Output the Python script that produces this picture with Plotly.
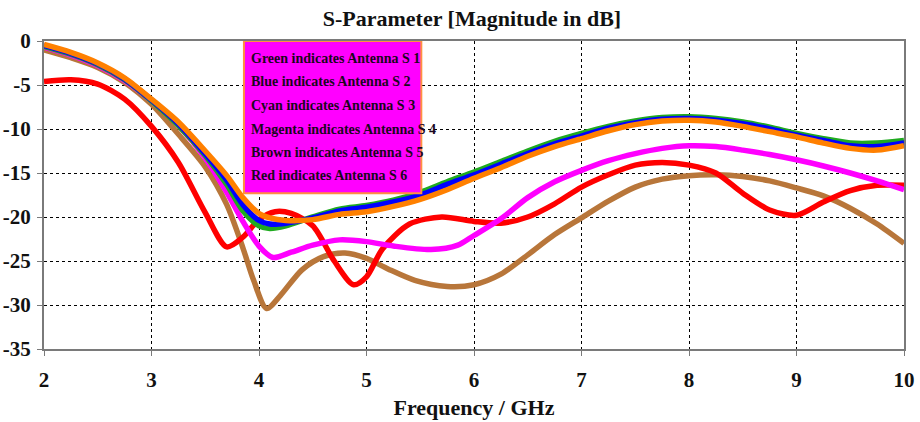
import plotly.graph_objects as go

# Frequency samples (GHz) and |S| in dB for each antenna
freq_main = [2.0, 2.25, 2.5, 2.75, 3.0, 3.25, 3.5, 3.7, 3.85, 4.0, 4.1, 4.25, 4.5, 4.75,
             5.0, 5.25, 5.5, 5.75, 6.0, 6.25, 6.5, 6.75, 7.0, 7.25, 7.5, 7.75, 8.0,
             8.25, 8.5, 8.75, 9.0, 9.25, 9.5, 9.75, 10.0]

s_green = [-0.6, -1.5, -2.7, -4.4, -6.8, -9.6, -13.0, -16.3, -19.3, -21.0, -21.3, -21.0,
           -20.0, -19.1, -18.7, -18.1, -17.2, -16.0, -14.9, -13.7, -12.5, -11.4, -10.5,
           -9.7, -9.1, -8.7, -8.6, -8.8, -9.2, -9.8, -10.5, -11.1, -11.6, -11.6, -11.3]

s_blue = [-0.5, -1.4, -2.6, -4.3, -6.7, -9.4, -12.8, -15.8, -18.6, -20.4, -20.8, -20.7,
          -20.1, -19.3, -18.9, -18.3, -17.5, -16.3, -15.2, -14.0, -12.8, -11.7, -10.8,
          -9.9, -9.3, -8.9, -8.8, -9.0, -9.4, -10.0, -10.7, -11.3, -11.9, -12.0, -11.6]

s_orange = [-0.4, -1.3, -2.5, -4.2, -6.6, -9.2, -12.5, -15.3, -17.8, -19.6, -20.1, -20.4,
            -20.3, -19.7, -19.4, -18.8, -18.0, -16.9, -15.6, -14.4, -13.1, -12.0, -11.1,
            -10.2, -9.5, -9.1, -9.0, -9.2, -9.7, -10.3, -10.9, -11.6, -12.2, -12.4, -11.9]

freq_mag = [2.0, 2.25, 2.5, 2.75, 3.0, 3.25, 3.5, 3.7, 3.85, 4.0, 4.13, 4.3, 4.5, 4.75,
            5.0, 5.25, 5.6, 5.85, 6.0, 6.25, 6.5, 6.75, 7.0, 7.25, 7.5, 7.75, 8.0,
            8.25, 8.5, 8.75, 9.0, 9.25, 9.5, 9.75, 10.0]
s_magenta = [-0.7, -1.6, -2.8, -4.5, -6.8, -9.6, -13.3, -17.2, -20.5, -23.3, -24.6, -24.0,
             -23.2, -22.6, -22.8, -23.3, -23.7, -23.2, -22.1, -20.2, -17.8, -16.0, -14.7,
             -13.6, -12.8, -12.2, -11.9, -12.0, -12.4, -12.9, -13.5, -14.2, -15.0, -15.9, -16.9]

freq_brown = [2.0, 2.25, 2.5, 2.75, 3.0, 3.25, 3.5, 3.7, 3.85, 3.95, 4.07, 4.2, 4.4, 4.6,
              4.8, 5.0, 5.2, 5.45, 5.75, 6.0, 6.25, 6.5, 6.75, 7.0, 7.25, 7.5, 7.75,
              8.0, 8.25, 8.5, 8.75, 9.0, 9.25, 9.5, 9.75, 10.0]
s_brown = [-1.0, -1.9, -3.0, -4.7, -7.2, -10.6, -14.3, -18.6, -23.5, -27.2, -30.4, -28.9,
           -26.0, -24.5, -24.1, -24.7, -25.9, -27.2, -27.9, -27.7, -26.5, -24.3, -22.0,
           -20.1, -18.2, -16.6, -15.7, -15.3, -15.2, -15.4, -15.9, -16.7, -17.6, -19.0,
           -20.8, -23.0]

freq_red = [2.0, 2.25, 2.5, 2.75, 3.0, 3.25, 3.5, 3.7, 3.85, 4.0, 4.15, 4.3, 4.5, 4.7,
            4.88, 5.0, 5.15, 5.4, 5.7, 6.0, 6.25, 6.5, 6.75, 7.0, 7.25, 7.5, 7.75, 8.0,
            8.25, 8.5, 8.75, 9.0, 9.25, 9.5, 9.75, 10.0]
s_red = [-4.6, -4.4, -4.9, -6.6, -9.7, -13.8, -19.5, -23.4, -22.3, -20.3, -19.4, -19.6,
         -21.0, -25.0, -27.7, -26.8, -23.6, -20.8, -20.0, -20.5, -20.7, -20.0, -18.5,
         -16.6, -15.2, -14.1, -13.8, -14.1, -15.0, -17.3, -19.2, -19.8, -18.3, -17.0,
         -16.4, -16.4]

legend_lines = ["Green indicates Antenna S 1", "Blue indicates Antenna S 2",
                "Cyan indicates Antenna S 3", "Magenta indicates Antenna S 4",
                "Brown indicates Antenna S 5", "Red indicates Antenna S 6"]
legend_y = [-1.95, -4.65, -7.3, -10.0, -12.65, -15.3]

x_ticks = [2, 3, 4, 5, 6, 7, 8, 9, 10]
y_ticks = [0, -5, -10, -15, -20, -25, -30, -35]

SERIF = "Liberation Serif, Times New Roman, serif"

series = [
    ("Antenna S 5", freq_brown, s_brown, "#b8763a"),
    ("Antenna S 6", freq_red, s_red, "#ff0000"),
    ("Antenna S 4", freq_mag, s_magenta, "#ff00ff"),
    ("Antenna S 1", freq_main, s_green, "#1faa1f"),
    ("Antenna S 2", freq_main, s_blue, "#0000ff"),
    ("Antenna S 3", freq_main, s_orange, "#ff8000"),
]

fig = go.Figure()
for name, xs, ys, col in series:
    fig.add_trace(go.Scatter(x=xs, y=ys, mode="lines", name=name,
                             line=dict(color=col, width=5.5, shape="spline", smoothing=0.8)))

# Legend box drawn as a filled rectangle with one text line per antenna
fig.add_shape(type="rect", xref="x", yref="y", x0=3.86, x1=5.51, y0=0, y1=-17.3,
              fillcolor="#ff00ff", line=dict(color="#ff9040", width=2), layer="above")
for txt, yy in zip(legend_lines, legend_y):
    fig.add_annotation(x=3.91, y=yy, xref="x", yref="y", text=txt, showarrow=False,
                       xanchor="left", yanchor="middle",
                       font=dict(family=SERIF, size=14, color="#1a0620", weight="bold"))

fig.update_layout(
    width=920, height=422,
    margin=dict(l=44, r=16, t=41, b=73, autoexpand=False),
    paper_bgcolor="white", plot_bgcolor="white",
    showlegend=False,
    title=dict(text="<b>S-Parameter [Magnitude in dB]</b>", x=0.513, xanchor="center",
               y=0.957, yanchor="middle",
               font=dict(family=SERIF, size=22, color="#111111")),
)

fig.update_xaxes(range=[2, 10], tickvals=x_ticks, ticktext=[f"<b>{v}</b>" for v in x_ticks],
                 showgrid=True, gridcolor="#000000", griddash="dot", gridwidth=1.3,
                 showline=True, linecolor="#7a7a7a", linewidth=2, mirror=True,
                 ticks="outside", ticklen=5, tickcolor="#7a7a7a", ticklabelstandoff=6,
                 zeroline=False, automargin=False,
                 tickfont=dict(family=SERIF, size=21, color="#111111"),
                 title=dict(text="<b>Frequency / GHz</b>", standoff=8,
                            font=dict(family=SERIF, size=22, color="#111111")))
fig.update_yaxes(range=[-35, 0], tickvals=y_ticks, ticktext=[f"<b>{v}</b>" for v in y_ticks],
                 showgrid=True, gridcolor="#000000", griddash="dot", gridwidth=1.3,
                 showline=True, linecolor="#7a7a7a", linewidth=2, mirror=True,
                 ticks="outside", ticklen=5, tickcolor="#7a7a7a", ticklabelstandoff=2,
                 zeroline=False, automargin=False,
                 tickfont=dict(family=SERIF, size=21, color="#111111"))

fig.write_html("out.html")
